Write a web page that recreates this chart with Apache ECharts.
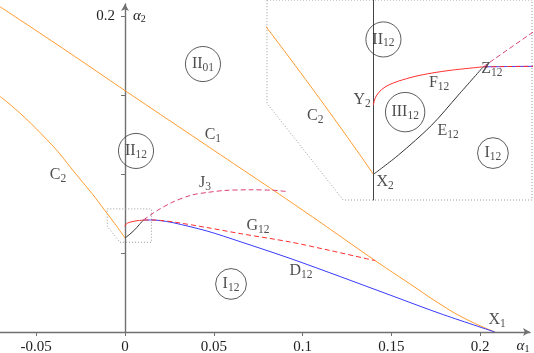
<!DOCTYPE html>
<html>
<head>
<meta charset="utf-8">
<script src="https://cdn.jsdelivr.net/npm/echarts@6/dist/echarts.min.js"></script>
<style>
  html, body { margin: 0; padding: 0; background: #fff; }
  #chart { width: 534px; height: 353px; }
</style>
</head>
<body>
<div id="chart"></div>
<script>
// bifurcation curves, points are [alpha1, alpha2]
const c1 = [[-0.0704, 0.2059], [-0.035, 0.1795], [0, 0.1528], [0.0495, 0.1154], [0.0985, 0.0783],
  [0.141, 0.0451], [0.1605, 0.0304], [0.1774, 0.0177], [0.1914, 0.0085], [0.2083, 0]]
const c2 = [[-0.0704, 0.1491], [-0.0479, 0.1263], [-0.0253, 0.0968], [-0.0101, 0.0751], [0, 0.0595]]
const d12 = [[0.01032, 0.07085], [0.015, 0.0709], [0.02, 0.0705], [0.027, 0.0692], [0.0462, 0.0639],
  [0.0648, 0.0572], [0.0929, 0.0466], [0.1211, 0.0351], [0.1492, 0.0234], [0.1774, 0.0117], [0.2083, 0]]
const g12 = [[0.01032, 0.07085], [0.015, 0.0709], [0.02, 0.0706], [0.027, 0.0697], [0.0462, 0.0661],
  [0.0648, 0.0623], [0.0929, 0.057], [0.1154, 0.0516], [0.141, 0.0451]]
const j3 = [[0.01032, 0.07085], [0.0146, 0.0742], [0.0186, 0.0772], [0.027, 0.0823], [0.0376, 0.0867],
  [0.0462, 0.0883], [0.0563, 0.0896], [0.0704, 0.09], [0.0833, 0.0897], [0.0912, 0.0889]]
const e12 = [[0, 0.0595], [0.002346, 0.06154], [0.00548, 0.0647], [0.007977, 0.06787], [0.010323, 0.07085]]
const f12 = [[0, 0.06681], [0.0000938, 0.06734], [0.000319, 0.06787], [0.000788, 0.06847], [0.001408, 0.06892],
  [0.002346, 0.06934], [0.003913, 0.06984], [0.00548, 0.07019], [0.007357, 0.0705], [0.010323, 0.07085]]
// zoomed region (cut corner at lower left)
const zoomBox = [[-0.01, 0.0779], [0.0149, 0.0779], [0.0149, 0.0568], [-0.00284, 0.0568], [-0.01, 0.067], [-0.01, 0.0779]]

const xTicks = [-0.05, 0, 0.05, 0.1, 0.15, 0.2]
const yTicks = [0.05, 0.1, 0.15, 0.2]
const yTickLabels = [0.2]

// text marks: [text, alpha1, alpha2]
const mainLabels = [['C1', 0.0495, 0.1247], ['C2', -0.0377, 0.0994], ['J3', 0.045, 0.0943],
  ['G12', 0.0749, 0.0671], ['D12', 0.0991, 0.0386], ['X1', 0.2095, 0.0076]]
const mainRegions = [['II01', 0.0439, 0.1696], ['II12', 0.0062, 0.1146], ['I12', 0.0597, 0.0304]]
const zoomLabels = [['C2', -0.00547, 0.06565], ['Y2', -0.00106, 0.06734], ['F12', 0.00617, 0.06913],
  ['E12', 0.00701, 0.06407], ['Z12', 0.01114, 0.07066], ['X2', 0.0011, 0.05869]]
const zoomRegions = [['II12', 0.00094, 0.07374], ['III12', 0.00298, 0.06607], ['I12', 0.01123, 0.06175]]

const serif = 'Liberation Serif'
const ink = '#222'
const rich = {
  m: { fontFamily: serif, fontSize: 16, color: ink, lineHeight: 20 },
  s: { fontFamily: serif, fontSize: 11.5, color: ink, lineHeight: 11, padding: [8, 0, 0, 0] }
}

function subText(name) {
  const m = name.match(/^([A-Z]+)(\d*)$/)
  return '{m|' + m[1] + '}' + (m[2] ? '{s|' + m[2] + '}' : '')
}

function curve(data, color, dashed, idx, smooth) {
  return {
    type: 'line',
    xAxisIndex: idx,
    yAxisIndex: idx,
    data: data,
    showSymbol: false,
    smooth: smooth || 0.3,
    lineStyle: { color: color, width: 1, type: dashed ? [5, 3] : 'solid' },
    silent: true
  }
}

function box(idx) {
  return {
    type: 'line',
    xAxisIndex: idx,
    yAxisIndex: idx,
    data: zoomBox,
    showSymbol: false,
    clip: false,
    lineStyle: { color: '#9a9a9a', width: 1, type: [1, 2] },
    silent: true
  }
}

function texts(list, idx) {
  return {
    type: 'scatter',
    xAxisIndex: idx,
    yAxisIndex: idx,
    symbol: 'circle',
    symbolSize: 1,
    itemStyle: { color: 'rgba(0,0,0,0)' },
    data: list.map(([n, x, y]) => ({ name: n, value: [x, y] })),
    label: { show: true, position: 'inside', formatter: (p) => subText(p.name), rich: rich },
    labelLayout: { hideOverlap: false },
    z: 5,
    silent: true
  }
}

function regions(list, idx) {
  return {
    type: 'scatter',
    xAxisIndex: idx,
    yAxisIndex: idx,
    symbol: 'circle',
    symbolSize: (v, p) => 26.5 + 4.3 * p.name.match(/^I+/)[0].length,
    itemStyle: { color: 'rgba(0,0,0,0)', borderColor: '#333', borderWidth: 1 },
    data: list.map(([n, x, y]) => ({ name: n, value: [x, y] })),
    label: { show: true, position: 'inside', formatter: (p) => subText(p.name), rich: rich },
    z: 5,
    silent: true
  }
}

const orange = '#ff9a2e'
const blue = '#3a3aff'
const red = '#ff2d2d'
const pink = '#d9407a'
const axisColor = '#707070'

const chart = echarts.init(document.getElementById('chart'))
chart.setOption({
  animation: false,
  grid: [
    { left: 0, top: 4, width: 530, height: 328, containLabel: false, outerBoundsMode: 'none' },
    { left: 267, top: 0, width: 265, height: 200, containLabel: false, outerBoundsMode: 'none' }
  ],
  xAxis: [
    {
      type: 'value',
      min: -0.07038,
      max: 0.22804,
      name: '{a|α}{s|1}',
      nameLocation: 'end',
      nameGap: -7,
      nameTextStyle: { align: 'center', verticalAlign: 'top', padding: [5, 0, 0, 0], rich: {
        a: { fontFamily: serif, fontSize: 15, fontStyle: 'italic', color: ink, lineHeight: 18 },
        s: { fontFamily: serif, fontSize: 10, color: ink, lineHeight: 10, padding: [7, 0, 0, 0] }
      } },
      axisLine: { lineStyle: { color: axisColor, width: 1.4 }, symbol: ['none', 'arrow'], symbolSize: [6, 7] },
      axisTick: { length: 4, lineStyle: { color: axisColor }, customValues: xTicks },
      axisLabel: { customValues: xTicks, margin: 8, fontFamily: serif, fontSize: 15, color: ink },
      splitLine: { show: false }
    },
    { type: 'value', gridIndex: 1, min: -0.01, max: 0.0149, show: false }
  ],
  yAxis: [
    {
      type: 'value',
      min: 0,
      max: 0.2076,
      name: '{a|α}{s|2}',
      nameLocation: 'end',
      nameGap: -3,
      nameTextStyle: { align: 'left', verticalAlign: 'top', padding: [0, 0, 0, 8], rich: {
        a: { fontFamily: serif, fontSize: 15, fontStyle: 'italic', color: ink, lineHeight: 18 },
        s: { fontFamily: serif, fontSize: 10, color: ink, lineHeight: 10, padding: [7, 0, 0, 0] }
      } },
      axisLine: { onZero: true, lineStyle: { color: axisColor, width: 1.4 }, symbol: ['none', 'arrow'], symbolSize: [6, 7] },
      axisTick: { length: 4, lineStyle: { color: axisColor }, customValues: yTicks },
      // labels stay at the grid edge, so pull them back next to the zero line
      axisLabel: { customValues: yTickLabels, margin: -115, fontFamily: serif, fontSize: 15, color: ink },
      splitLine: { show: false }
    },
    {
      type: 'value',
      gridIndex: 1,
      min: 0.0568,
      max: 0.0779,
      axisLine: { show: true, onZero: true, lineStyle: { color: '#444', width: 1 } },
      axisTick: { show: false },
      axisLabel: { show: false },
      splitLine: { show: false }
    }
  ],
  series: [
    box(0),
    curve(c1, orange, false, 0, 0.5),
    curve(c2, orange, false, 0, 0.6),
    curve(d12, blue, false, 0),
    curve(g12, red, true, 0),
    curve(j3, pink, true, 0),
    curve(e12, '#333', false, 0),
    curve(f12, red, false, 0),
    texts(mainLabels, 0),
    regions(mainRegions, 0),
    box(1),
    curve(c2, orange, false, 1, 0.6),
    curve(d12, blue, false, 1),
    curve(g12, red, true, 1),
    curve(j3, pink, true, 1),
    curve(e12, '#333', false, 1),
    curve(f12, red, false, 1),
    texts(zoomLabels, 1),
    regions(zoomRegions, 1)
  ]
})
</script>
</body>
</html>
